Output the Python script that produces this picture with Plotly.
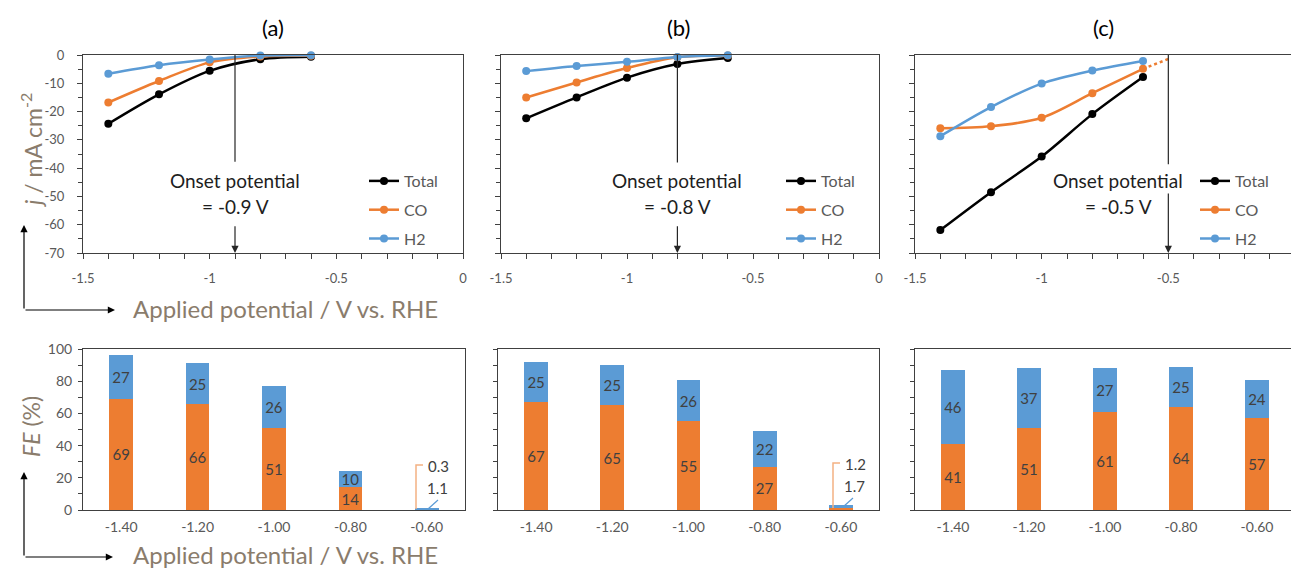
import plotly.graph_objects as go

# page body has an 8px margin; compensate so the figure lands where the reference is
OFF = 8
W, H = 1299 - OFF, 568 - OFF
FONT = "Lato"
TITLE_COL = "#8a7c6c"
TICK_COL = "#595959"
ORANGE = "#ED7D31"
BLUE = "#5B9BD5"

# ---------------- data ----------------
potentials = [-1.4, -1.2, -1.0, -0.8, -0.6]
categories = ["-1.40", "-1.20", "-1.00", "-0.80", "-0.60"]

# current densities (mA cm-2)
j_total_a = [-24.3, -13.9, -5.6, -1.5, -0.6]
j_co_a = [-16.8, -9.2, -2.6, -0.5, -0.3]
j_h2_a = [-6.6, -3.6, -1.6, -0.2, -0.1]

j_total_b = [-22.4, -15.0, -8.0, -3.2, -1.1]
j_co_b = [-15.0, -9.7, -4.6, -0.8, -0.2]
j_h2_b = [-5.7, -3.9, -2.4, -0.7, -0.1]

j_total_c = [-61.9, -48.5, -35.9, -20.9, -7.8]
j_co_c = [-25.9, -25.2, -22.2, -13.5, -4.9]
j_h2_c = [-28.7, -18.4, -10.1, -5.5, -2.1]

co_extrap_c_x = [-0.6, -0.5]
co_extrap_c_y = [-4.9, -1.4]

onset = [-0.9, -0.8, -0.5]
onset_labels = ["= -0.9 V", "= -0.8 V", "= -0.5 V"]

# Faradaic efficiencies (%)
fe_co_a = [69, 66, 51, 14, 0.3]
fe_h2_a = [27, 25, 26, 10, 1.1]
fe_co_b = [67, 65, 55, 27, 1.2]
fe_h2_b = [25, 25, 26, 22, 1.7]
fe_co_c = [41, 51, 61, 64, 57]
fe_h2_c = [46, 37, 27, 25, 24]

# tick labels
top_x_ticks = [-1.5, -1.0, -0.5, 0.0]
top_x_text = ["-1.5", "-1", "-0.5", "0"]
top_y_ticks = [0, -10, -20, -30, -40, -50, -60, -70]
top_y_text = ["0", "-10", "-20", "-30", "-40", "-50", "-60", "-70"]
bot_y_ticks = [0, 20, 40, 60, 80, 100]
bot_y_text = ["0", "20", "40", "60", "80", "100"]

panel_titles = ["(a)", "(b)", "(c)"]

# ---------------- geometry (screen pixels) ----------------
top_x_px = [(83, 463), (501, 879), (915, 1295)]
top_y_px = (55, 253)
bot_x_px = [(83, 465), (498, 879), (915, 1295)]
bot_y_px = (349, 510)


def fx(p):
    return (p - OFF) / W


def fy(p):
    return 1 - (p - OFF) / H


fig = go.Figure()

j_sets = [
    (j_total_a, j_co_a, j_h2_a),
    (j_total_b, j_co_b, j_h2_b),
    (j_total_c, j_co_c, j_h2_c),
]
fe_sets = [(fe_co_a, fe_h2_a), (fe_co_b, fe_h2_b), (fe_co_c, fe_h2_c)]

legend_names = ["legend", "legend2", "legend3"]

for i, (jt, jc, jh) in enumerate(j_sets):
    xa = "x" if i == 0 else f"x{i+1}"
    ya = "y" if i == 0 else f"y{i+1}"
    for name, vals, col in [("Total", jt, "black"), ("CO", jc, ORANGE), ("H2", jh, BLUE)]:
        fig.add_trace(go.Scatter(
            x=potentials, y=vals, name=name, mode="lines+markers",
            line=dict(color=col, width=2.5, shape="spline", smoothing=0.9),
            marker=dict(color=col, size=8),
            xaxis=xa, yaxis=ya, legend=legend_names[i],
            legendgroup=f"{name}{i}", cliponaxis=False,
        ))
    if i == 2:
        fig.add_trace(go.Scatter(
            x=co_extrap_c_x, y=co_extrap_c_y, mode="lines",
            line=dict(color=ORANGE, width=2.5, dash="dot"),
            xaxis=xa, yaxis=ya, showlegend=False, hoverinfo="skip",
        ))

for i, (fc, fh) in enumerate(fe_sets):
    xa = f"x{i+4}"
    ya = f"y{i+4}"
    for vals, col in [(fc, ORANGE), (fh, BLUE)]:
        fig.add_trace(go.Bar(
            x=categories, y=vals, marker=dict(color=col, line=dict(width=0)), width=0.31,
            text=[f"{v:g}" if v >= 5 else "" for v in vals],
            textposition="inside", insidetextanchor="middle", textangle=0,
            constraintext="none",
            textfont=dict(color="#404040", size=15, family=FONT),
            xaxis=xa, yaxis=ya, showlegend=False,
        ))

layout = dict(
    width=W, height=H, margin=dict(l=0, r=0, t=0, b=0, autoexpand=False),
    paper_bgcolor="white", plot_bgcolor="white",
    barmode="stack", font=dict(family=FONT, color=TICK_COL, size=13),
)

for i in range(3):
    k = "" if i == 0 else str(i + 1)
    x0, x1 = top_x_px[i]
    layout[f"xaxis{k}"] = dict(
        domain=[fx(x0), fx(x1)], anchor=f"y{k}", range=[-1.5, 0], automargin=False,
        tickmode="array", tickvals=top_x_ticks, ticktext=top_x_text,
        ticks="outside", ticklen=5, tickcolor="#404040",
        minor=dict(tickmode="linear", tick0=0, dtick=0.1, ticks="outside", ticklen=5, tickcolor="#404040"),
        showline=True, linecolor="#404040", linewidth=1, mirror=True,
        showgrid=False, zeroline=False, ticklabelstandoff=8,
        tickfont=dict(size=13, color=TICK_COL),
    )
    layout[f"yaxis{k}"] = dict(
        domain=[fy(top_y_px[1]), fy(top_y_px[0])], anchor=f"x{k}", range=[-70, 0], automargin=False,
        tickmode="array", tickvals=top_y_ticks, ticktext=top_y_text,
        showticklabels=(i == 0),
        ticks="outside", ticklen=5, tickcolor="#404040",
        minor=dict(tickmode="linear", tick0=0, dtick=5, ticks="outside", ticklen=4, tickcolor="#404040"),
        showline=True, linecolor="#404040", linewidth=1, mirror=True,
        showgrid=False, zeroline=False, ticklabelstandoff=10,
        tickfont=dict(size=13, color=TICK_COL),
    )
    b0, b1 = bot_x_px[i]
    layout[f"xaxis{i+4}"] = dict(
        domain=[fx(b0), fx(b1)], anchor=f"y{i+4}", type="category", automargin=False,
        ticks="", showline=True, linecolor="#404040", linewidth=1, mirror=True,
        showgrid=False, zeroline=False, ticklabelstandoff=4,
        tickfont=dict(size=14, color=TICK_COL),
    )
    layout[f"yaxis{i+4}"] = dict(
        domain=[fy(bot_y_px[1]), fy(bot_y_px[0])], anchor=f"x{i+4}", range=[0, 100], automargin=False,
        tickmode="array", tickvals=bot_y_ticks, ticktext=bot_y_text,
        showticklabels=(i == 0),
        ticks="outside", ticklen=4, tickcolor="#404040",
        minor=dict(tickmode="linear", tick0=0, dtick=10, ticks="outside", ticklen=4, tickcolor="#404040"),
        showline=True, linecolor="#404040", linewidth=1, mirror=True,
        showgrid=False, zeroline=False, ticklabelstandoff=3,
        tickfont=dict(size=14, color=TICK_COL),
    )

legend_left_px = [364, 781, 1195]
for i, ln in enumerate(legend_names):
    layout[ln] = dict(
        x=fx(legend_left_px[i]), y=fy(164), xanchor="left", yanchor="top",
        bgcolor="rgba(0,0,0,0)", font=dict(size=16, color=TICK_COL, family=FONT),
        tracegroupgap=5, itemwidth=30,
    )

fig.update_layout(**layout)

annotations = []
shapes = []


def label(xp, yp, text, size, color, angle=0):
    return dict(x=fx(xp), y=fy(yp), xref="paper", yref="paper", text=text,
                xanchor="center", yanchor="middle", textangle=angle,
                showarrow=False, font=dict(size=size, color=color, family=FONT))


# panel titles
title_x_px = [273, 678, 1103]
for i, t in enumerate(panel_titles):
    annotations.append(label(title_x_px[i], 28, t, 22, "black"))

# onset markers
upper_end = [-37.7, -38.0, -38.6]
lower_start = [-60.0, -60.0, -48.4]
text_shift = [0, 0, -50]
for i in range(3):
    k = "" if i == 0 else str(i + 1)
    shapes.append(dict(type="line", xref=f"x{k}", yref=f"y{k}",
                       x0=onset[i], x1=onset[i], y0=0, y1=upper_end[i],
                       line=dict(color="#262626", width=1.2)))
    annotations.append(dict(
        x=onset[i], y=-70, xref=f"x{k}", yref=f"y{k}",
        ax=onset[i], ay=lower_start[i], axref=f"x{k}", ayref=f"y{k}",
        text="", showarrow=True, arrowhead=2, arrowsize=1.2, arrowwidth=1.2,
        arrowcolor="#262626",
    ))
    for yv, txt in [(-44.5, "Onset potential"), (-53.7, onset_labels[i])]:
        annotations.append(dict(
            x=onset[i], y=yv, xref=f"x{k}", yref=f"y{k}", xshift=text_shift[i],
            xanchor="center", yanchor="middle",
            text=txt, showarrow=False,
            font=dict(size=19, color="#1e1e1e", family=FONT),
        ))

# axis titles
for ycen in [308, 554]:
    annotations.append(label(285, ycen, "Applied potential / V vs. RHE", 24, TITLE_COL))
annotations.append(label(31, 151, "<i>j</i> / mA cm<sup>-2</sup>", 23, TITLE_COL, -90))
annotations.append(label(31, 427, "<i>FE</i> (%)", 23, TITLE_COL, -90))

# L-shaped axis arrows
for (corner_y, top_y, right_x) in [(310, 225, 115), (557, 472, 113)]:
    annotations.append(dict(
        x=fx(24), y=fy(top_y), xref="paper", yref="paper",
        ax=0, ay=corner_y - top_y, text="", showarrow=True,
        arrowhead=2, arrowsize=1.2, arrowwidth=1.2, arrowcolor="black",
    ))
    annotations.append(dict(
        x=fx(right_x), y=fy(corner_y), xref="paper", yref="paper",
        ax=-(right_x - 24), ay=0, text="", showarrow=True,
        arrowhead=2, arrowsize=1.2, arrowwidth=1.2, arrowcolor="black",
    ))

# small-value labels with leader lines (panels a and b, -0.60 V)
small = [
    dict(co=fe_co_a[4], h2=fe_h2_a[4], ox=416, oy0=509, oy1=465, ox1=423, olab=(438, 466),
         b0=(428, 509), b1=(438, 500), blab=(437, 488)),
    dict(co=fe_co_b[4], h2=fe_h2_b[4], ox=833, oy0=508, oy1=463, ox1=840, olab=(855, 464),
         b0=(843, 507), b1=(853, 498), blab=(854, 486)),
]
for s in small:
    shapes.append(dict(
        type="path", xref="paper", yref="paper",
        path=f"M {fx(s['ox'])},{fy(s['oy0'])} L {fx(s['ox'])},{fy(s['oy1'])} L {fx(s['ox1'])},{fy(s['oy1'])}",
        line=dict(color="#F4B183", width=1.5),
    ))
    shapes.append(dict(
        type="line", xref="paper", yref="paper",
        x0=fx(s['b0'][0]), y0=fy(s['b0'][1]), x1=fx(s['b1'][0]), y1=fy(s['b1'][1]),
        line=dict(color=BLUE, width=1.2),
    ))
    annotations.append(label(s['olab'][0], s['olab'][1], f"{s['co']:g}", 15, "#404040"))
    annotations.append(label(s['blab'][0], s['blab'][1], f"{s['h2']:g}", 15, "#404040"))

fig.update_layout(annotations=annotations, shapes=shapes)
fig.write_html("out.html")
